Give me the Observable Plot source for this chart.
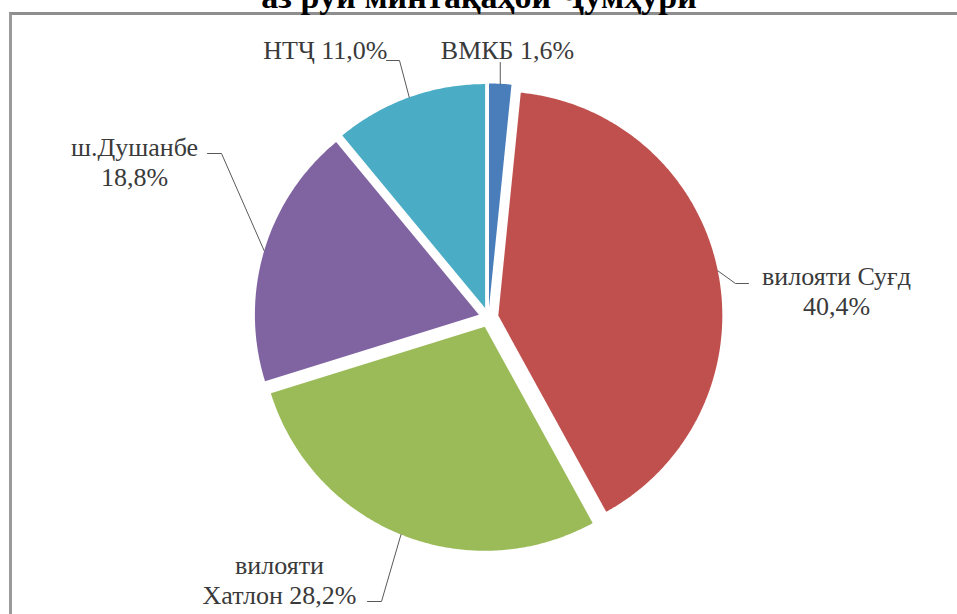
<!DOCTYPE html>
<html><head><meta charset="utf-8">
<script src="https://cdn.jsdelivr.net/npm/d3@7"></script>
<script src="https://cdn.jsdelivr.net/npm/@observablehq/plot@0.6"></script>
<style>
html,body{margin:0;padding:0;background:#fff;overflow:hidden;}
#wrap{position:relative;width:957px;height:614px;overflow:hidden;background:#fff;}
#frame{position:absolute;left:9px;top:12px;width:2000px;height:2000px;border-left:3px solid #9a9a9a;border-top:3px solid #8e8e8e;}
#chart{position:absolute;left:0;top:0;}
#chart text.lbl{letter-spacing:2px;}
</style></head><body>
<div id="wrap"><div id="frame"></div><div id="chart"></div></div>
<script>
// ---- data ----
const title = "аз рӯи минтақаҳои Ҷумҳурӣ";
const categories = ["ВМКБ", "вилояти Суғд", "вилояти Хатлон", "ш.Душанбе", "НТҶ"];
const shares = [1.6, 40.4, 28.2, 18.8, 11.0];
const labelNames = ["ВМКБ", "вилояти Суғд", "вилояти\nХатлон", "ш.Душанбе", "НТҶ"];
const labelSeparators = [" ", "\n", " ", "\n", " "];
const colors = ["#4A7EBB", "#C0504D", "#9BBB59", "#8064A2", "#4BACC6"];

// ---- layout (pixels) ----
const W = 957, H = 614;
const cx = 488, cy = 317, R = 224, explode = 10;
const fontSize = 26, lineH = 30;
const serif = "Liberation Serif, DejaVu Serif, serif";
const labelLayout = [
  {ex: null, ey: 62, hx: null, tx: 507, ty: 58, anchor: "middle"},
  {ex: 735, ey: 283, hx: 748, tx: 836, ty: 314, anchor: "middle"},
  {ex: 381, ey: 601, hx: 367, tx: 279, ty: 603, anchor: "middle"},
  {ex: 221, ey: 153, hx: 207, tx: 134, ty: 185, anchor: "middle"},
  {ex: 399, ey: 60, hx: 386, tx: 387, ty: 58, anchor: "end"}
];

const data = categories.map((name, i) => ({name, value: shares[i], i}));
const arcs = d3.pie().sort(null).value(d => d.value)(data);
const fmt = v => d3.format(".1f")(v).replace(".", ",") + "%";

const polyPoints = [];
const leaders = [];
const labels = [];
arcs.forEach(a => {
  const mid = (a.startAngle + a.endAngle) / 2;
  const ox = cx + Math.sin(mid) * explode, oy = cy - Math.cos(mid) * explode;
  const name = a.data.name;
  polyPoints.push({name, x: ox, y: oy});
  const n = Math.max(4, Math.ceil((a.endAngle - a.startAngle) / 0.01));
  for (let k = 0; k <= n; k++) {
    const t = a.startAngle + (a.endAngle - a.startAngle) * k / n;
    polyPoints.push({name, x: ox + Math.sin(t) * R, y: oy - Math.cos(t) * R});
  }
  const L = labelLayout[a.data.i];
  const sx = ox + Math.sin(mid) * R, sy = oy - Math.cos(mid) * R;
  leaders.push({name, x: sx, y: sy});
  const ex = L.ex == null ? sx : L.ex;
  leaders.push({name, x: ex, y: L.ey});
  if (L.hx != null) leaders.push({name, x: L.hx, y: L.ey});
  labels.push({
    text: labelNames[a.data.i] + labelSeparators[a.data.i] + fmt(a.data.value),
    x: L.tx, y: L.ty, anchor: L.anchor
  });
});

const chart = Plot.plot({
  width: W, height: H, margin: 0,
  x: {domain: [0, W], range: [0, W], axis: null},
  y: {domain: [0, H], range: [0, H], axis: null},
  color: {domain: categories, range: colors},
  style: {background: "transparent"},
  marks: [
    Plot.line(polyPoints, {x: "x", y: "y", z: "name", fill: "name", stroke: "none", curve: "linear-closed"}),
    Plot.line(leaders, {x: "x", y: "y", z: "name", stroke: "#595959", strokeWidth: 1}),
    Plot.text(labels.filter(d => d.anchor === "middle"), {x: "x", y: "y", text: "text", textAnchor: "middle", lineAnchor: "bottom", lineHeight: lineH / fontSize, fontSize, fontFamily: serif, fill: "#3a3a3a", className: "lbl"}),
    Plot.text(labels.filter(d => d.anchor === "end"), {x: "x", y: "y", text: "text", textAnchor: "end", lineAnchor: "bottom", lineHeight: lineH / fontSize, fontSize, fontFamily: serif, fill: "#3a3a3a", className: "lbl"}),
    Plot.text([title], {frameAnchor: "top", dx: 0, dy: 7, text: d => d, lineAnchor: "bottom", fontSize: 34, fontFamily: serif, fontWeight: "bold", fill: "#000"})
  ]
});
document.getElementById("chart").appendChild(chart);
</script>
</body></html>
